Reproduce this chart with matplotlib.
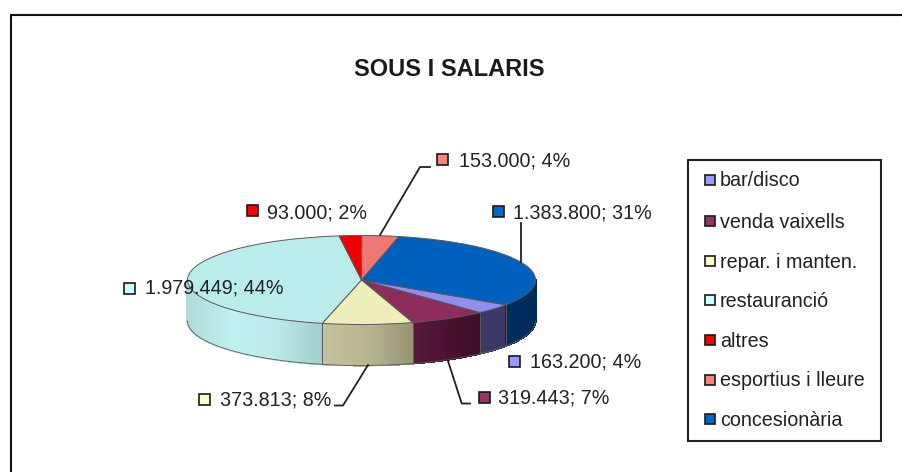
import numpy as np
import matplotlib
matplotlib.use("Agg")
import matplotlib.pyplot as plt
from matplotlib.colors import to_rgb
from matplotlib.patches import Rectangle
from matplotlib.collections import PolyCollection

plt.rcParams['font.family'] = ['Liberation Sans', 'DejaVu Sans']

# Data
title = "SOUS I SALARIS"
categories = ["bar/disco", "venda vaixells", "repar. i manten.", "restauranció",
              "altres", "esportius i lleure", "concesionària"]
values = [163200, 319443, 373813, 1979449, 93000, 153000, 1383800]
value_labels = ["163.200", "319.443", "373.813", "1.979.449", "93.000", "153.000", "1.383.800"]
percent_labels = ["4%", "7%", "8%", "44%", "2%", "4%", "31%"]

# Styles
legend_colors = ["#9999FF", "#993366", "#FFFFCC", "#CCFFFF", "#FF0000", "#FF8080", "#0066CC"]
top_colors = ["#8F8FF0", "#8E2C5E", "#EEEEBB", "#BBECEC", "#EE0000", "#EE7878", "#0060BE"]
wall_colors = [["#3C3868", "#3C3868"],
               ["#561A3C", "#4A1230", "#3C1026"],
               ["#C4C29C", "#B8B690", "#969472"],
               ["#B2DCDC", "#C0F0F0", "#BCE8E8", "#A0CBCB"],
               ["#CC0000", "#CC0000"],
               ["#C06060", "#C06060"],
               ["#002C60", "#002A5A"]]
W, H = 902, 472
CX, CY, RX, RY, DEPTH = 361.5, 280.0, 174.0, 44.5, 41.0
EDGE = "#5A5A5A"
TXT = "#222222"
FS = 14.2

fig = plt.figure(figsize=(W / 100, H / 100), dpi=100, facecolor="white")

# Pie axes: one data unit is RX pixels wide and RY pixels high
ax = fig.add_axes([0, 0, 1, 1])
start = -34.0
wedges, _ = ax.pie(values, startangle=start, counterclock=False, radius=1.0,
                   colors=top_colors,
                   wedgeprops=dict(edgecolor=EDGE, linewidth=0.7, zorder=3))
ax.set_aspect("auto")
ax.set_xlim(-CX / RX, (W - CX) / RX)
ax.set_ylim(-(H - CY) / RY, CY / RY)
ax.axis("off")

# Side wall of the pie, from the same values
depth = DEPTH / RY
sweeps = np.array(values, dtype=float) / np.sum(values) * 360.0
ends = start - np.cumsum(sweeps)
begins = ends + sweeps
for a_hi, a_lo, stops in zip(begins, ends, wall_colors):
    for win_lo, win_hi in ((-180.0, 0.0), (-540.0, -360.0)):
        lo, hi = max(a_lo, win_lo), min(a_hi, win_hi)
        if hi <= lo:
            continue
        ang = np.radians(np.linspace(hi, lo, 61))
        xs = np.cos(ang)
        ys = np.sin(ang)
        t = (xs - xs.min()) / (xs.max() - xs.min())
        rgb = np.array([to_rgb(c) for c in stops])
        pos = np.linspace(0, 1, len(stops))
        polys, cols = [], []
        for i in range(len(ang) - 1):
            polys.append([(xs[i], ys[i]), (xs[i + 1], ys[i + 1]),
                          (xs[i + 1], ys[i + 1] - depth), (xs[i], ys[i] - depth)])
            tm = (t[i] + t[i + 1]) / 2
            cols.append([np.interp(tm, pos, rgb[:, k]) for k in range(3)])
        ax.add_collection(PolyCollection(polys, facecolors=cols, edgecolors=cols,
                                         linewidths=0.8, antialiaseds=False, zorder=1))
        ax.plot(xs, ys - depth, color=EDGE, lw=0.6, zorder=2)
        # Seams between slices only; the silhouette ends stay unlined
        if hi < win_hi:
            ax.plot([xs[0], xs[0]], [ys[0], ys[0] - depth], color=EDGE, lw=0.6, zorder=2)
        if lo > win_lo:
            ax.plot([xs[-1], xs[-1]], [ys[-1], ys[-1] - depth], color=EDGE, lw=0.6, zorder=2)

# Overlay in pixel coordinates for frame, labels, legend
ov = fig.add_axes([0, 0, 1, 1], facecolor="none")
ov.set_xlim(0, W)
ov.set_ylim(H, 0)
ov.axis("off")

# Chart frame (top and left only are inside the picture)
ov.plot([11, 11, W + 2], [H + 2, 14.5, 14.5], color="#111111", lw=1.5,
        solid_joinstyle="miter", zorder=1)

ov.text(449, 69.5, title, fontsize=17, fontweight="bold", color="#1a1a1a",
        ha="center", va="center")

# Leader lines
leaders = [[(368, 365), (343, 405.5), (335, 405.5)],
           [(447.7, 360), (461.7, 403.5), (470, 403.5)],
           [(380, 235), (420, 167), (430, 167)],
           [(520.6, 223), (520.6, 262)]]
for pts in leaders:
    p = np.array(pts)
    ov.plot(p[:, 0], p[:, 1], color="#222222", lw=1.3, zorder=4)

# Data labels: marker centre x, y and text x, y per category
label_pos = [(514, 361.5, 530, 362), (484, 397, 498, 398), (204, 399, 220, 400),
             (129, 288, 145, 288), (252, 210.5, 267, 213), (442.5, 159, 459, 161),
             (498, 211, 513, 213)]
for (mx, my, tx, ty), col, v, pc in zip(label_pos, legend_colors, value_labels, percent_labels):
    ov.add_patch(Rectangle((mx - 5.5, my - 5.5), 11, 11, facecolor=col, edgecolor="#1a1a1a",
                           linewidth=1.2, zorder=5))
    ov.text(tx, ty, f"{v}; {pc}", fontsize=FS, color=TXT, ha="left", va="center", zorder=6)

# Legend box
ov.add_patch(Rectangle((687.5, 159.5), 193.5, 281, facecolor="white", edgecolor="#222222",
                       linewidth=1.5, zorder=5))
legend_y = [179.5, 220.5, 261, 300, 340, 379.5, 419]
for y, col, name in zip(legend_y, legend_colors, categories):
    ov.add_patch(Rectangle((705, y - 5), 10, 10, facecolor=col, edgecolor="#1a1a1a",
                           linewidth=1.2, zorder=6))
    ov.text(720, y + 1.5, name, fontsize=FS, color=TXT, ha="left", va="center", zorder=6)

fig.savefig("out.png", dpi=100)
